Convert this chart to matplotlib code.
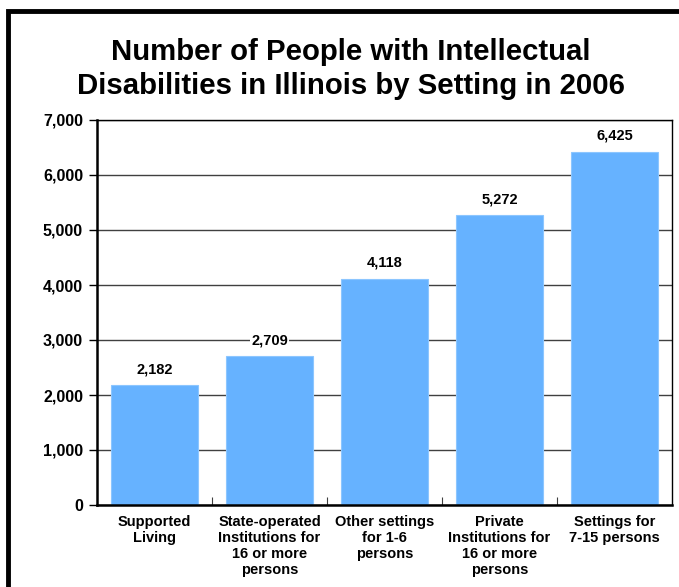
import matplotlib.pyplot as plt
from matplotlib.patches import Rectangle
from matplotlib.ticker import FuncFormatter

categories = ['Supported\nLiving',
              'State-operated\nInstitutions for\n16 or more\npersons',
              'Other settings\nfor 1-6\npersons',
              'Private\nInstitutions for\n16 or more\npersons',
              'Settings for\n7-15 persons']
values = [2182, 2709, 4118, 5272, 6425]
yticks = [0, 1000, 2000, 3000, 4000, 5000, 6000, 7000]

plt.rcParams['font.family'] = ['Liberation Sans', 'DejaVu Sans']

fig = plt.figure(figsize=(6.79, 5.87), dpi=100)
ax = fig.add_axes([97 / 679, 1 - 505 / 587, 575 / 679, 385 / 587])

x = range(len(values))
ax.bar(x, values, width=0.75, color='#66B2FF', edgecolor='#8CC6FF', linewidth=0.8, zorder=2)

for i, v in enumerate(values):
    ax.text(i, v + 290, f'{v:,}', ha='center', va='center', fontsize=10.5,
            fontweight='bold', zorder=3,
            bbox=dict(facecolor='white', edgecolor='none', pad=1))

ax.set_xlim(-0.5, len(values) - 0.5)
ax.set_ylim(0, 7000)
ax.set_yticks(yticks)
ax.yaxis.set_major_formatter(FuncFormatter(lambda v, p: f'{int(v):,}'))
ax.grid(axis='y', color='#404040', linewidth=1, zorder=1)
ax.set_axisbelow(True)

ax.set_xticks([i + 0.5 for i in range(len(values) - 1)])
ax.set_xticklabels([])
ax.tick_params(axis='x', direction='in', length=6, width=0.8, color='#404040')
ax.set_xticks(list(x), minor=True)
ax.set_xticklabels(categories, minor=True, fontsize=10.5, fontweight='bold',
                   linespacing=1.2, va='top')
ax.tick_params(axis='x', which='minor', length=0, pad=7)
ax.tick_params(axis='y', direction='out', length=6, width=1, labelsize=11.5, pad=4)
for lab in ax.get_yticklabels():
    lab.set_fontweight('bold')

for s in ['left', 'bottom']:
    ax.spines[s].set_linewidth(1.8)
for s in ['top', 'right']:
    ax.spines[s].set_linewidth(1)

fig.text(351 / 679, 1 - 69 / 587, 'Number of People with Intellectual\nDisabilities in Illinois by Setting in 2006',
         ha='center', va='center', fontsize=21.2, fontweight='bold', linespacing=1.3)

fig.add_artist(Rectangle((8 / 679, -0.1), 1.2, 1 - 11 / 587 + 0.1, transform=fig.transFigure,
                         fill=False, edgecolor='black', linewidth=3.5))

fig.savefig('out.png', dpi=100)
